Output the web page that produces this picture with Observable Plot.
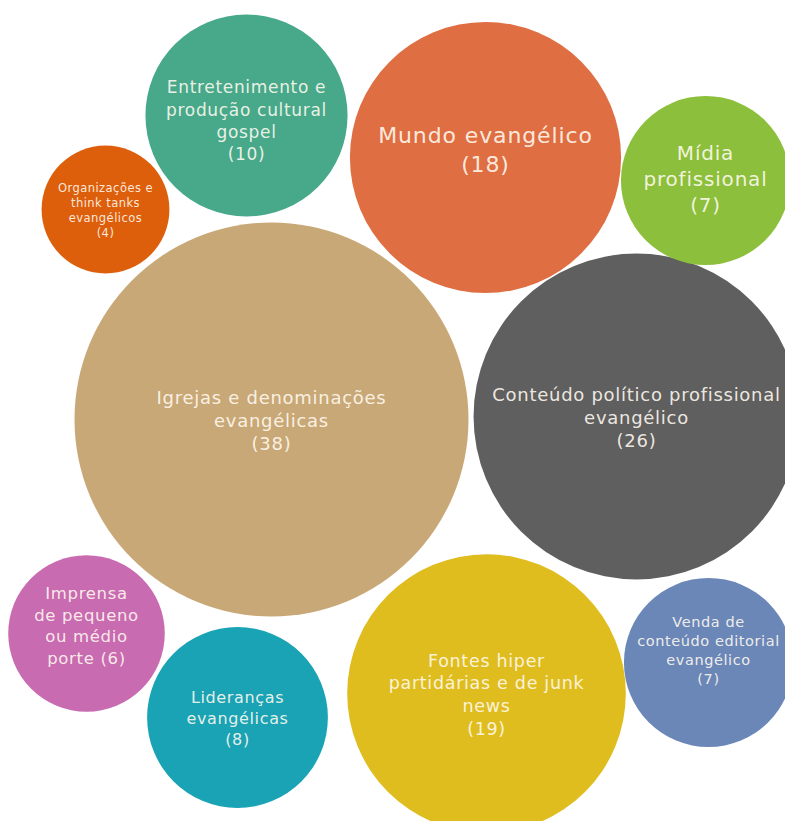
<!DOCTYPE html>
<html>
<head>
<meta charset="utf-8">
<script src="https://cdn.jsdelivr.net/npm/d3@7"></script>
<script src="https://cdn.jsdelivr.net/npm/@observablehq/plot@0.6"></script>
<style>
  html, body { margin: 0; padding: 0; background: #fff; overflow: hidden; }
  #chart svg { display: block; }
  #chart text { letter-spacing: 0.04em; }
</style>
</head>
<body>
<div id="chart"></div>
<script>
// ---- data ----
const categories = [
  "Entretenimento e produção cultural gospel",
  "Mundo evangélico",
  "Mídia profissional",
  "Organizações e think tanks evangélicos",
  "Igrejas e denominações evangélicas",
  "Conteúdo político profissional evangélico",
  "Imprensa de pequeno ou médio porte",
  "Lideranças evangélicas",
  "Fontes hiper partidárias e de junk news",
  "Venda de conteúdo editorial evangélico"
];
const values = [10, 18, 7, 4, 38, 26, 6, 8, 19, 7];
const labelLines = [
  "Entretenimento e\nprodução cultural\ngospel",
  "Mundo evangélico",
  "Mídia\nprofissional",
  "Organizações e\nthink tanks\nevangélicos",
  "Igrejas e denominações\nevangélicas",
  "Conteúdo político profissional\nevangélico",
  "Imprensa\nde pequeno\nou médio\nporte",
  "Lideranças\nevangélicas",
  "Fontes hiper\npartidárias e de junk\nnews",
  "Venda de\nconteúdo editorial\nevangélico"
];
// bubble layout (centres, in layout units of the packing; y grows downward)
const layoutX = [246, 485, 705, 105, 271, 636, 86, 237, 486, 708];
const layoutY = [115, 157, 180, 209, 419, 416, 633, 717, 693, 662];

// ---- styles ----
const colors = ["#47a98a", "#df6e42", "#8cbf3b", "#dd5f0c", "#c9a877",
                "#5f5f5f", "#c96bb1", "#1aa3b5", "#dfbd1e", "#6b87b8"];
const labelSize = {
  "Entretenimento e produção cultural gospel": 17,
  "Mundo evangélico": 22,
  "Mídia profissional": 20,
  "Organizações e think tanks evangélicos": 11.5,
  "Igrejas e denominações evangélicas": 18,
  "Conteúdo político profissional evangélico": 18,
  "Imprensa de pequeno ou médio porte": 16.5,
  "Lideranças evangélicas": 16,
  "Fontes hiper partidárias e de junk news": 17.5,
  "Venda de conteúdo editorial evangélico": 14.5
};
const labelDy = {
  "Mundo evangélico": -9,
  "Imprensa de pequeno ou médio porte": -9,
  "Entretenimento e produção cultural gospel": 4,
  "Mídia profissional": -3,
  "Venda de conteúdo editorial evangélico": -13
};
const countInline = new Set(["Imprensa de pequeno ou médio porte"]);

const data = categories.map((c, i) => ({
  category: c,
  value: values[i],
  px: layoutX[i],
  py: layoutY[i],
  label: labelLines[i] + (countInline.has(c) ? " " : "\n") + `(${values[i]})`
}));

const W = 785, H = 821;
const chart = Plot.plot({
  width: W,
  height: H,
  margin: 0,
  x: {domain: [0, W], axis: null},
  y: {domain: [0, H], reverse: true, axis: null},
  r: {type: "sqrt", domain: [0, 38], range: [0, 197]},
  color: {domain: categories, range: colors},
  style: {fontFamily: "'DejaVu Sans', sans-serif", background: "#fff"},
  marks: [
    Plot.dot(data, {x: "px", y: "py", r: "value", fill: "category", stroke: "none"}),
    Plot.text(data, {
      x: "px",
      y: d => d.py + (labelDy[d.category] || 0),
      text: "label",
      fill: "#fffaf0", fillOpacity: 0.9,
      fontSize: d => labelSize[d.category],
      lineHeight: 1.3,
      textAnchor: "middle"
    })
  ]
});
document.getElementById("chart").appendChild(chart);
</script>
</body>
</html>
